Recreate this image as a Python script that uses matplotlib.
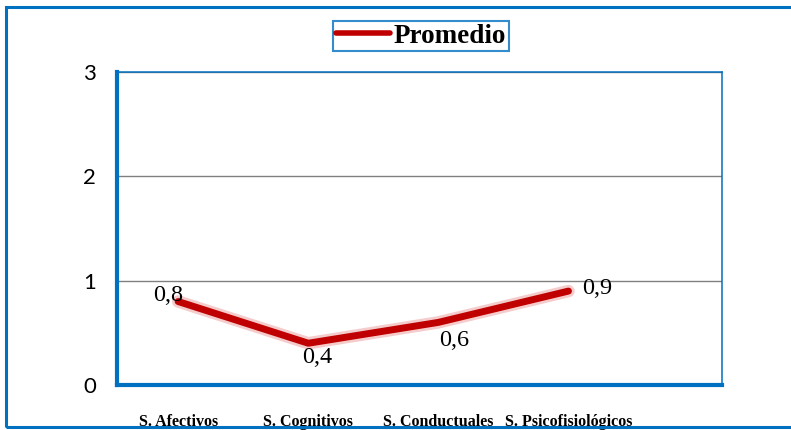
import matplotlib.pyplot as plt
from matplotlib.patches import Rectangle

categorias = ["S. Afectivos", "S. Cognitivos", "S. Conductuales", "S. Psicofisiológicos"]
promedio = [0.8, 0.4, 0.6, 0.9]
etiquetas = ["0,8", "0,4", "0,6", "0,9"]
# offsets (px) of each data label from its point
offs = [(-10, 6), (9, -14), (16, -18), (29, 3)]

azul = "#0070C0"
rojo = "#C00000"

fig = plt.figure(figsize=(7.91, 4.30), dpi=100)
ax = fig.add_axes([0.1479, 0.1047, 0.9128 - 0.1479, 0.8326 - 0.1047])

x = list(range(len(categorias)))
# soft glow under the line
ax.plot(x, promedio, color="#E88080", lw=9, alpha=0.4, solid_capstyle="round", zorder=3)
ax.plot(x, promedio, color=rojo, lw=5, solid_capstyle="round", zorder=4, label="Promedio")

for xi, yi, t, (dx, dy) in zip(x, promedio, etiquetas, offs):
    ax.annotate(t, (xi, yi), xytext=(dx * 0.72, dy * 0.72), textcoords="offset points",
                ha="center", va="center", fontsize=17.5, family="Liberation Serif", zorder=5)

ax.set_xlim(-0.47, 4.18)
ax.set_ylim(0, 3)
ax.set_yticks([0, 1, 2, 3])
ax.set_xticks(x)
ax.set_xticklabels(categorias, family="Liberation Serif", fontweight="bold", fontsize=11.5)
ax.tick_params(axis="x", length=0, pad=21)
ax.tick_params(axis="y", length=0, pad=15, labelsize=16)
for lab in ax.get_yticklabels():
    lab.set_family("Lato")
ax.grid(axis="y", color="#808080", lw=1)
ax.set_axisbelow(True)

ax.spines["left"].set_color(azul)
ax.spines["left"].set_linewidth(3)
ax.spines["bottom"].set_color(azul)
ax.spines["bottom"].set_linewidth(3)
ax.spines["top"].set_color(azul)
ax.spines["top"].set_linewidth(1.1)
ax.spines["right"].set_color(azul)
ax.spines["right"].set_linewidth(1.1)

leg = fig.legend(loc="center", bbox_to_anchor=(0.532, 0.916), frameon=True, fancybox=False,
                 prop={"family": "Liberation Serif", "weight": "bold", "size": 19.5},
                 handlelength=2.0, borderpad=0.1, handletextpad=0.15, borderaxespad=0)
leg.get_frame().set_edgecolor(azul)
leg.get_frame().set_linewidth(1.5)
leg.legend_handles[0].set_linewidth(4)

# outer chart frame
fig.add_artist(Rectangle((6 / 791, 3 / 430), 1.0, 420 / 430, transform=fig.transFigure,
                         fill=False, edgecolor=azul, lw=2.2, zorder=10))

fig.savefig("out.png", dpi=100)
